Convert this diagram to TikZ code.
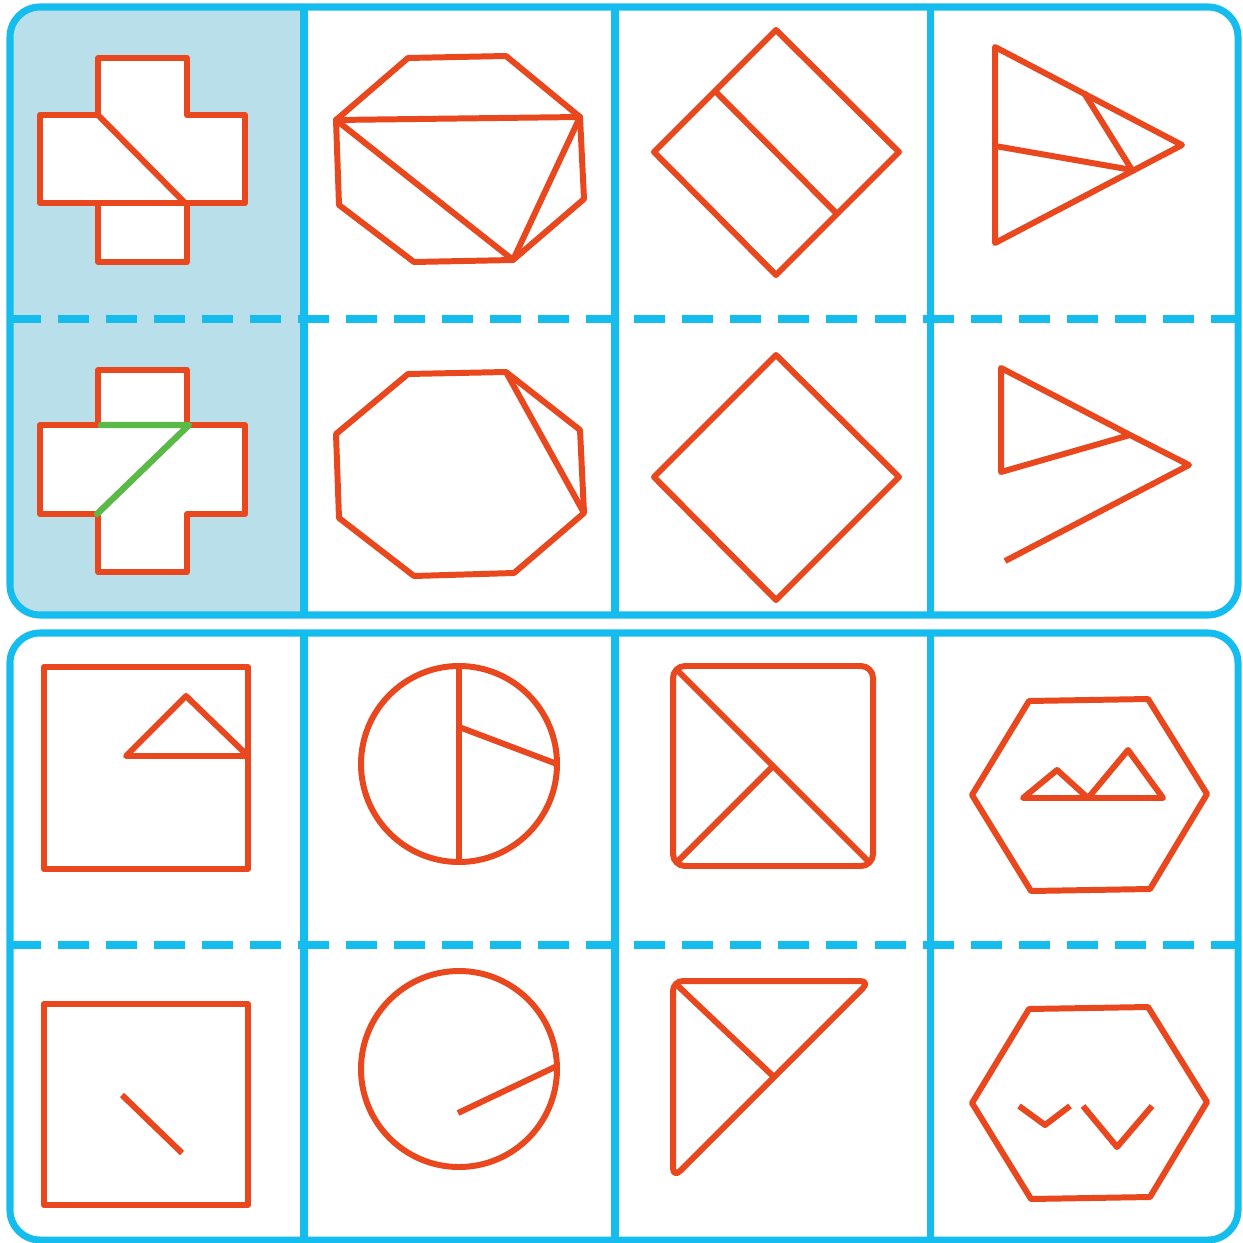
\documentclass[tikz,border=0pt]{standalone}
\usepackage{tikz}
\definecolor{cFrame}{HTML}{14BDEE}
\definecolor{cShade}{HTML}{B9E0EA}
\definecolor{cFig}{HTML}{E9481F}
\definecolor{cHint}{HTML}{5BB947}
\tikzset{
  panel/.style   = {draw=cFrame, line width=2pt, rounded corners=0.3cm},
  divider/.style = {draw=cFrame, line width=2pt},
  cutline/.style = {draw=cFrame, line width=2.3pt, dash pattern=on 0.31cm off 0.17cm},
  fig/.style     = {draw=cFig, line width=1.7pt, line join=round},
  hint/.style    = {draw=cHint, line width=1.8pt, line join=round, line cap=round},
}
\begin{document}
\begin{tikzpicture}[x=0.01cm, y=-0.01cm]
  \useasboundingbox (0,0) rectangle (1243,1243);
  \fill[white] (0,0) rectangle (1243,1243);
  \begin{scope}
    \clip (0,0) rectangle (304,620);
    \fill[cShade, rounded corners=0.3cm] (10,7) rectangle (1238,615);
  \end{scope}

  \draw[cutline] (10,319) -- (1238,319);
  \draw[cutline] (10,945) -- (1238,945);
  \foreach \x in {304,615,930} {
    \draw[divider] (\x,7) -- (\x,615);
    \draw[divider] (\x,633) -- (\x,1240);
  }
  \draw[panel] (10,7) rectangle (1238,615);
  \draw[panel] (10,633) rectangle (1238,1240);

  % cross
  \draw[fig, fill=white] (98,58) -- (187,58) -- (187,115) -- (245,115) -- (245,203) -- (187,203) -- (187,262)
    -- (98,262) -- (98,203) -- (40,203) -- (40,115) -- (98,115) -- cycle;
  \draw[fig] (98,203) -- (187,203);
  \draw[fig] (98,115) -- (185,203);
  \draw[fig, fill=white] (98,425) -- (98,370) -- (187,370) -- (187,425) -- (245,425) -- (245,514) -- (187,514)
    -- (187,572) -- (98,572) -- (98,514) -- (40,514) -- (40,425) -- cycle;
  \draw[hint] (101,425) -- (189,425) -- (97,514);

  % octagon
  \draw[fig] (408,58) -- (506,56) -- (580,117) -- (584,199) -- (513,260) -- (414,262) -- (339,205)
    -- (336,120) -- cycle;
  \draw[fig] (336,120) -- (580,117) -- (513,260) -- cycle;
  \draw[fig] (408,374) -- (506,372) -- (580,430) -- (584,513) -- (514,573) -- (414,576) -- (339,518)
    -- (336,434) -- cycle;
  \draw[fig] (506,372) -- (584,513);

  % diamond
  \draw[fig] (776,30) -- (899,152) -- (776,275) -- (654,152) -- cycle;
  \draw[fig] (715,91) -- (837,214);
  \draw[fig] (776,355) -- (899,477) -- (776,600) -- (654,477) -- cycle;

  % triangle
  \draw[fig] (995,47) -- (1182,145) -- (995,243) -- cycle;
  \draw[fig] (995,146) -- (1132,170);
  \draw[fig] (1084,93) -- (1132,170);
  \draw[fig] (1130,435) -- (1001,368) -- (1001,472) -- cycle;
  \draw[fig] (1130,435) -- (1189,465) -- (1005,561);

  % square
  \draw[fig] (44,667) rectangle (248,869);
  \draw[fig] (126,756) -- (186,696) -- (248,756) -- cycle;
  \draw[fig] (44,1004) rectangle (248,1205);
  \draw[fig] (122,1095) -- (182,1153);

  % circle
  \draw[fig] (459,764) circle[radius=98];
  \draw[fig] (459,666) -- (459,862);
  \draw[fig] (459,727) -- (557,764);
  \draw[fig] (459,1069) circle[radius=98];
  \draw[fig] (458,1113) -- (557,1066);

  % rounded square
  \draw[fig, rounded corners=0.12cm] (673,666) rectangle (873,866);
  \draw[fig] (678,671) -- (868,861);
  \draw[fig] (678,861) -- (773,766);
  \draw[fig, rounded corners=0.1cm] (673,981) -- (870,981) -- (673,1178) -- cycle;
  \draw[fig] (678,986) -- (774,1077);

  % hexagon
  \draw[fig] (1029,701) -- (1148,699) -- (1207,794) -- (1150,889) -- (1031,891) -- (972,795) -- cycle;
  \draw[fig] (1023,798) -- (1057,770) -- (1088,798) -- (1128,750) -- (1163,798) -- cycle;
  \draw[fig] (1029,1009) -- (1148,1007) -- (1207,1102) -- (1150,1197) -- (1031,1199) -- (972,1103) -- cycle;
  \draw[fig] (1019,1106) -- (1045,1125) -- (1070,1106);
  \draw[fig] (1083,1106) -- (1117,1147) -- (1152,1106);
\end{tikzpicture}
\end{document}
